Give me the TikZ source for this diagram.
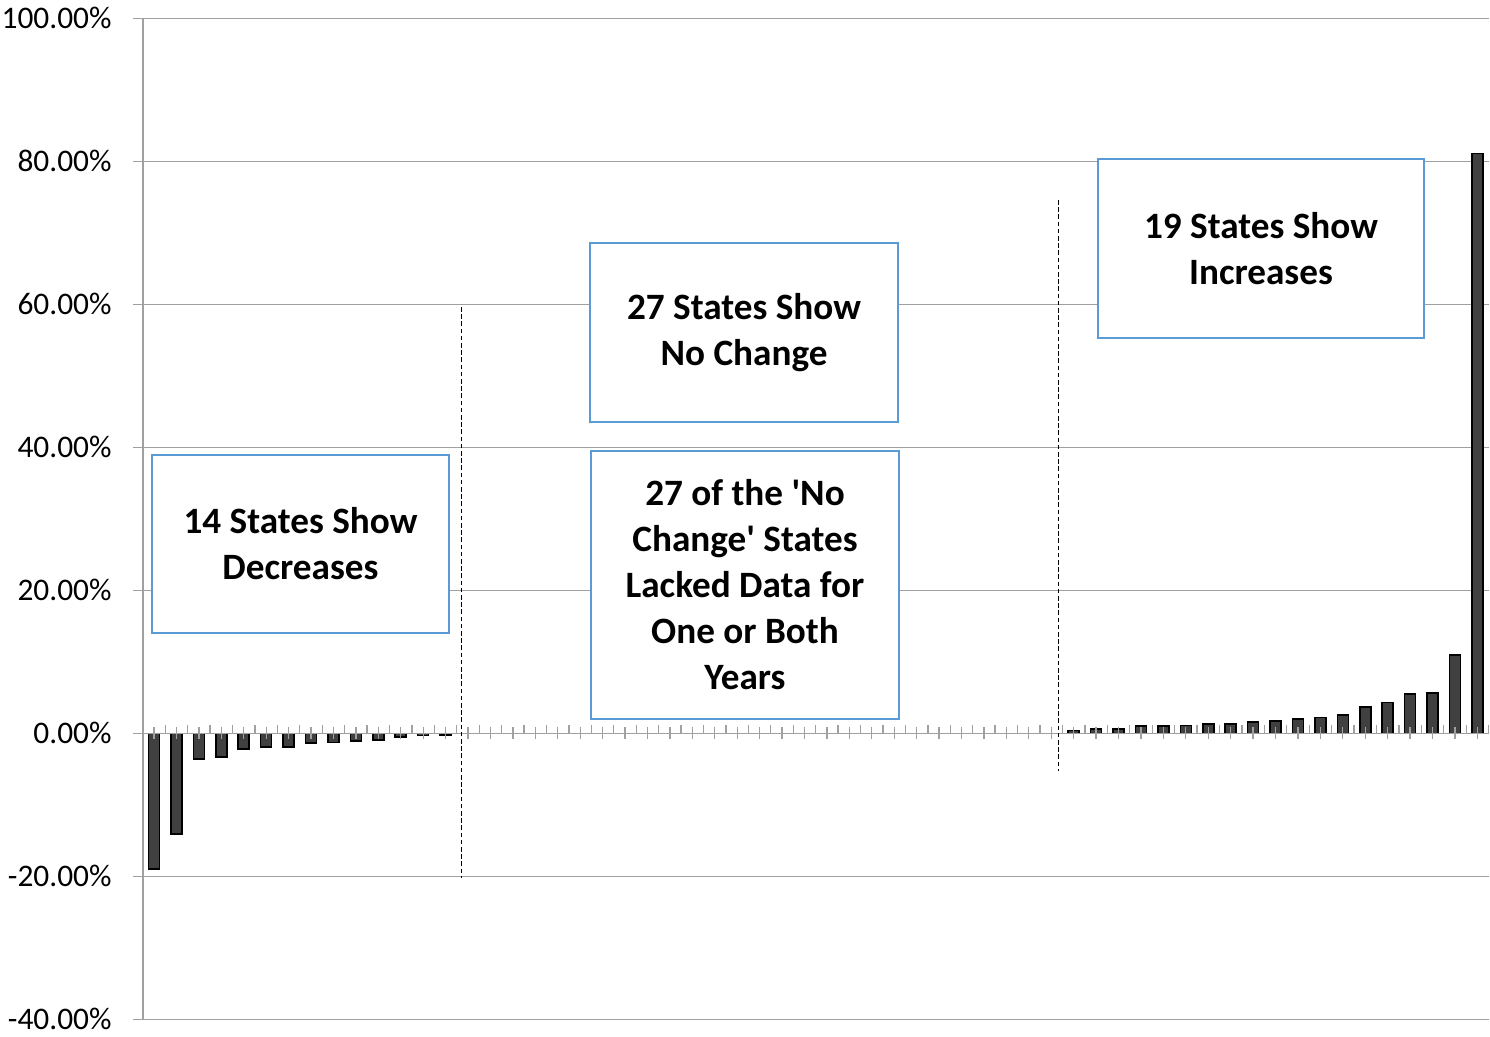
\documentclass[tikz,border=0pt]{standalone}
\usepackage{fontspec}
\setmainfont{Carlito}
\definecolor{boxblue}{HTML}{5B9BD5}
\definecolor{gridgray}{HTML}{A0A0A0}
\definecolor{barfill}{HTML}{404040}
\begin{document}
\begin{tikzpicture}[x=0.5pt,y=-0.5pt,
  grid/.style={draw=gridgray,line width=0.65pt},
  bar/.style={fill=barfill,draw=black,line width=0.8pt},
  ylab/.style={anchor=east,inner sep=0pt,font=\fontsize{15.7}{18}\selectfont},
  divider/.style={draw=black,line width=0.5pt,dash pattern=on 2.3pt off 1.3pt},
  note/.style={draw=boxblue,line width=1pt,fill=white,inner sep=0pt,align=center,
    font=\fontsize{18.6}{23}\selectfont\bfseries}]
\useasboundingbox (0,0) rectangle (1490,1037);
% gridlines and value labels
\foreach \v in {-40,-20,...,100} {
  \draw[grid] (133,{733.3-\v*7.15}) -- (1488.5,{733.3-\v*7.15});
  \node[ylab] (lab\v) at (112,{733.3-\v*7.15}) {\v.00\%};
}
\draw[grid] (143,18.3) -- (143,1019.3);
% bars
\foreach \v [count=\i] in {-19.0,-14.1,-3.6,-3.3,-2.2,-1.9,-1.9,-1.35,-1.3,-1.1,-0.9,-0.5,-0.3,-0.2} {
  \draw[bar] ({142.8+(\i-0.5)*22.43-5.5},733.3) rectangle ++(11,{-\v*7.15});
}
\foreach \v [count=\j from 42] in {0.37,0.6,0.6,1.0,1.0,1.1,1.26,1.26,1.6,1.7,1.96,2.2,2.56,3.7,4.3,5.5,5.6,10.95,81.1} {
  \draw[bar] ({142.8+(\j-0.5)*22.43-5.5},733.3) rectangle ++(11,{-\v*7.15});
}
% category axis and ticks
\draw[grid] (133,733.3) -- (1488.5,733.3);
\foreach \k in {0,...,60} {
  \draw[grid] ({142.8+\k*22.43},725) -- ++(0,8.3);
}
\foreach \k in {1,...,60} {
  \draw[grid] ({142.8+(\k-0.5)*22.43},727) -- ++(0,12);
}
% dividers
\coordinate (d1a) at (461,307);
\coordinate (d1b) at (461,878);
\coordinate (d2a) at (1058,200);
\coordinate (d2b) at (1058,771);
\draw[divider] (d1a) -- (d1b);
\draw[divider] (d2a) -- (d2b);
% notes
\node[note,minimum width=148.5pt,minimum height=89pt] (dec) at (300.5,544) {14 States Show\\Decreases};
\node[note,minimum width=154pt,minimum height=89.5pt] (noch) at (744,332.5) {27 States Show\\No Change};
\node[note,minimum width=154pt,minimum height=134pt] (lack) at (745,585) {27 of the \textquotesingle No\\Change\textquotesingle\ States\\Lacked Data for\\One or Both\\Years};
\node[note,minimum width=163pt,minimum height=89.5pt] (inc) at (1261,248.5) {19 States Show\\Increases};
\end{tikzpicture}
\end{document}
